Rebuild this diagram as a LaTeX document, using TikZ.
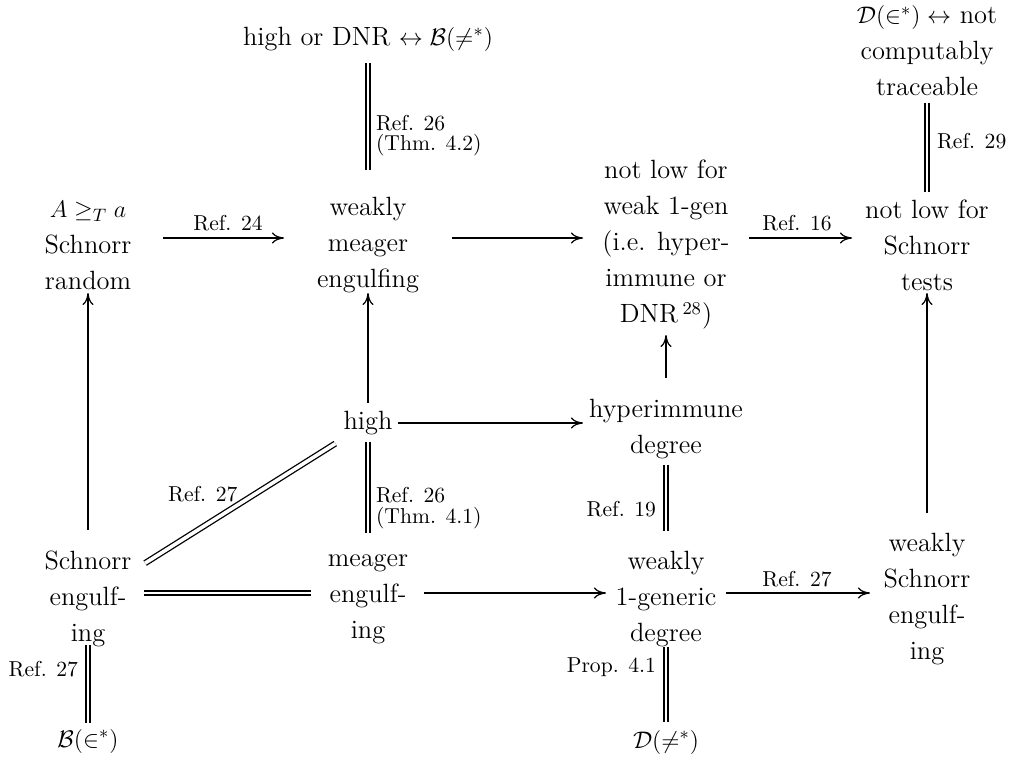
\documentclass[tikz,border=0pt]{standalone}
\usetikzlibrary{arrows.meta}
\newcommand\dgmfont{\fontsize{13.2}{18}\selectfont}
\newcommand\dgmlab{\fontsize{10.8}{10.2}\selectfont}
\tikzset{
  obj/.style={font=\dgmfont, align=center, inner sep=0pt},
  arr/.style={line width=1.1pt, -{To[length=6pt,width=5.5pt,line width=0.6pt]}},
  eq/.style={double, line width=1pt, double distance=1.4pt},
  lab/.style={font=\dgmlab, inner sep=0pt},
}
\begin{document}
\begin{tikzpicture}[x=0.5pt,y=-0.5pt]
\useasboundingbox (0,0) rectangle (1012,761);
\node[obj] (hd) at (368,39) {high or DNR $\leftrightarrow\mathcal{B}(\not=^*)$};
\node[obj] (dt) at (927,51) {$\mathcal{D}(\in^*)\leftrightarrow$ not\\computably\\traceable};
\node[obj] (a) at (88,245) {$A\geq_T a$\\Schnorr\\random};
\node[obj] (wme) at (368,245) {weakly\\meager\\engulfing};
\node[obj] (nlw) at (666,245) {not low for\\weak 1-gen\\(i.e. hyper-\\immune or\\DNR\,$^{28}$)};
\node[obj] (nls) at (927,245) {not low for\\Schnorr\\tests};
\node[obj] (high) at (368,423) {high};
\node[obj] (hi) at (666,429) {hyperimmune\\degree};
\node[obj] (se) at (88,599) {Schnorr\\engulf-\\ing};
\node[obj] (me) at (368,599) {meager\\engulf-\\ing};
\node[obj] (wg) at (666,599) {weakly\\1-generic\\degree};
\node[obj] (ws) at (927,599) {weakly\\Schnorr\\engulf-\\ing};
\node[obj] (b) at (88,741) {$\mathcal{B}(\in^*)$};
\node[obj] (d) at (666,742) {$\mathcal{D}(\not=^*)$};
% top row
\draw[arr, shorten <=37.5pt, shorten >=42pt] ([yshift=3.5pt]a.center) -- node[lab, pos=.5, anchor=base, yshift=4pt] {Ref. 24} ([yshift=3.5pt]wme.center);
\draw[arr, shorten <=42pt, shorten >=41.5pt] ([yshift=3.5pt]wme.center) -- ([yshift=3.5pt]nlw.center);
\draw[arr, shorten <=41.5pt, shorten >=37.5pt] ([yshift=3.5pt]nlw.center) -- node[lab, pos=.502, anchor=base, yshift=4pt] {Ref. 16} ([yshift=3.5pt]nls.center);
% verticals to top
\draw[eq, shorten <=12pt, shorten >=37.5pt] (hd.center) -- node[lab, pos=.47, anchor=west, xshift=3.5pt, align=left] {Ref. 26\\(Thm. 4.2)} (wme.center);
\draw[eq, shorten <=26pt, shorten >=26.5pt] (dt.center) -- node[lab, pos=.464, anchor=west, xshift=4.5pt] {Ref. 29} (nls.center);
% middle
\draw[arr, shorten <=10pt, shorten >=24pt] (high.center) -- (wme.center);
\draw[arr, shorten <=15pt, shorten >=41.5pt] (high.center) -- ([yshift=3pt]hi.center);
\draw[arr, shorten <=25.5pt, shorten >=45pt] (hi.center) -- (nlw.center);
\draw[arr, shorten <=34.5pt, shorten >=24pt] (se.center) -- (a.center);
\draw[arr, shorten <=43pt, shorten >=24pt] (ws.center) -- (nls.center);
\draw[eq, line width=0.65pt, double distance=1.8pt, shorten <=19.3pt, shorten >=33.7pt] (high.center) -- node[lab, pos=.464, anchor=south east, yshift=1pt] {Ref. 27} (se.center);
\draw[eq, shorten <=9.5pt, shorten >=33pt] (high.center) -- node[lab, pos=.483, anchor=west, xshift=3.5pt, align=left] {Ref. 26\\(Thm. 4.1)} (me.center);
\draw[eq, shorten <=18pt, shorten >=34pt] (hi.center) -- node[lab, pos=.47, anchor=east, xshift=-4.5pt] {Ref. 19} (wg.center);
% bottom row
\draw[eq, shorten <=28pt, shorten >=28.5pt] ([yshift=3pt]se.center) -- ([yshift=3pt]me.center);
\draw[arr, shorten <=28pt, shorten >=30pt] ([yshift=3pt]me.center) -- ([yshift=3pt]wg.center);
\draw[arr, shorten <=30pt, shorten >=28.5pt] ([yshift=3pt]wg.center) -- node[lab, pos=.502, anchor=base, yshift=3.5pt] {Ref. 27} ([yshift=3pt]ws.center);
% bottom verticals
\draw[eq, shorten <=23pt, shorten >=9pt] (se.center) -- node[lab, pos=.493, anchor=east, xshift=-4.5pt] {Ref. 27} (b.center);
\draw[eq, shorten <=24pt, shorten >=10pt] (wg.center) -- node[lab, pos=.476, anchor=east, xshift=-4.5pt] {Prop. 4.1} (d.center);
\end{tikzpicture}
\end{document}
